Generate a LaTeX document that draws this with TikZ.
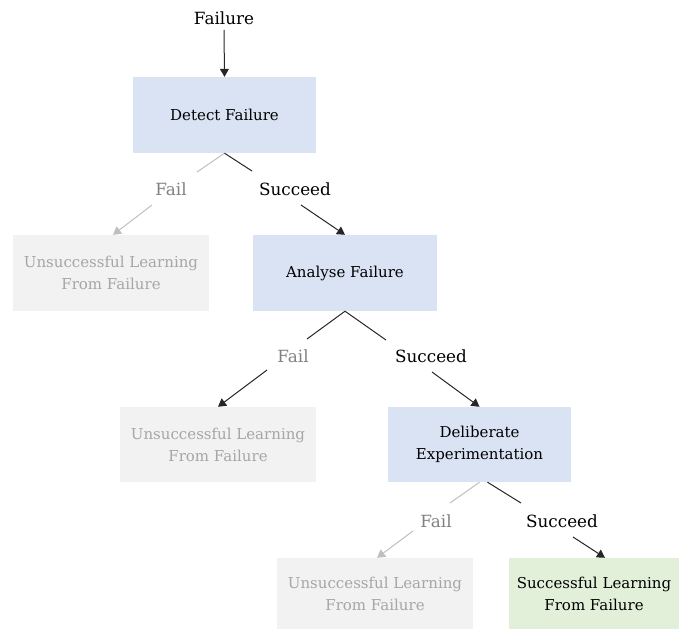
\documentclass[tikz,border=0pt]{standalone}
\usepackage{fontspec}
\setmainfont{DejaVu Serif}
\usetikzlibrary{arrows.meta}
\definecolor{boxblue}{HTML}{DAE3F3}
\definecolor{boxgray}{HTML}{F2F2F2}
\definecolor{boxgreen}{HTML}{E2F0D9}
\definecolor{failtext}{HTML}{808080}
\definecolor{unsutext}{HTML}{A6A6A6}
\definecolor{lightline}{HTML}{BFBFBF}
\begin{document}
\begin{tikzpicture}[x=1pt,y=-1pt,
  base/.style={inner sep=0pt,align=center,font=\fontsize{15}{22}\selectfont},
  bluebox/.style={base,fill=boxblue,text=black},
  graybox/.style={base,fill=boxgray,text=unsutext},
  greenbox/.style={base,fill=boxgreen,text=black},
  lbl/.style={inner sep=0pt,font=\fontsize{16.8}{20}\selectfont},
  faillbl/.style={lbl,text=failtext},
  conn/.style={line width=1pt,draw=black!85},
  lightconn/.style={line width=1pt,draw=lightline},
  arr/.style={-{Triangle[length=8pt,width=9pt]}},
]
\useasboundingbox (0,0) rectangle (679,629);

% boxes
\node[bluebox,minimum width=183pt,minimum height=76pt] (detect) at (224.5,115) {Detect Failure};
\node[graybox,minimum width=196pt,minimum height=76pt] (u1) at (111,273) {Unsuccessful Learning\\From Failure};
\node[bluebox,minimum width=184pt,minimum height=76pt] (analyse) at (345,273) {Analyse Failure};
\node[graybox,minimum width=196pt,minimum height=75pt] (u2) at (218,444.5) {Unsuccessful Learning\\From Failure};
\node[bluebox,minimum width=183pt,minimum height=75pt] (delib) at (479.5,444.5) {Deliberate\\Experimentation};
\node[graybox,minimum width=196pt,minimum height=71pt] (u3) at (375,593.5) {Unsuccessful Learning\\From Failure};
\node[greenbox,minimum width=170pt,minimum height=71pt] (succ) at (594,593.5) {Successful Learning\\From Failure};

% labels
\node[lbl] (failtop) at (224,18) {Failure};
\node[faillbl] (f1) at (171,189) {Fail};
\node[lbl] (s1) at (295,189) {Succeed};
\node[faillbl] (f2) at (293,356) {Fail};
\node[lbl] (s2) at (431,356) {Succeed};
\node[faillbl] (f3) at (436,521) {Fail};
\node[lbl] (s3) at (562,521) {Succeed};

% free ends of connectors
\coordinate (topa) at (224,30);
\coordinate (f1a) at (197,172);
\coordinate (f1b) at (152,205);
\coordinate (s1a) at (252,171);
\coordinate (s1b) at (301,205);
\coordinate (f2a) at (307,339);
\coordinate (f2b) at (267,370);
\coordinate (s2a) at (386,340);
\coordinate (s2b) at (432,372);
\coordinate (f3a) at (450,503);
\coordinate (f3b) at (413,531);
\coordinate (s3a) at (521,503);
\coordinate (s3b) at (573,537);

% connectors
\draw[conn,arr] (topa) -- (detect.north);

\draw[lightconn] (detect.south) -- (f1a);
\draw[lightconn,arr] (f1b) -- ([xshift=2pt]u1.north);
\draw[conn] (detect.south) -- (s1a);
\draw[conn,arr] (s1b) -- (analyse.north);

\draw[conn] (analyse.south) -- (f2a);
\draw[conn,arr] (f2b) -- (u2.north);
\draw[conn] (analyse.south) -- (s2a);
\draw[conn,arr] (s2b) -- (delib.north);

\draw[lightconn] (delib.south) -- (f3a);
\draw[lightconn,arr] (f3b) -- ([xshift=2pt]u3.north);
\draw[conn] ([xshift=8pt]delib.south) -- (s3a);
\draw[conn,arr] (s3b) -- ([xshift=11pt]succ.north);
\end{tikzpicture}
\end{document}
